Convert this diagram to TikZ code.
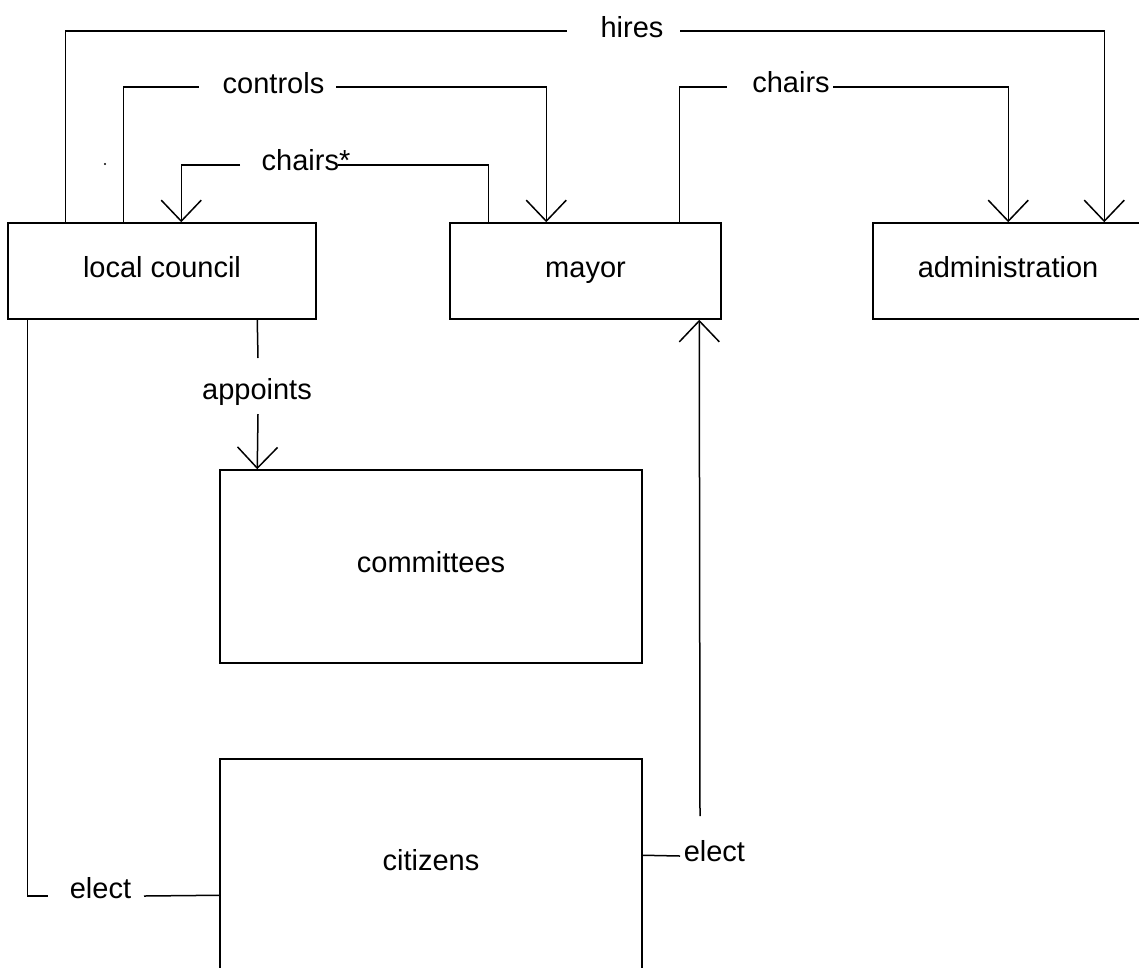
\documentclass[tikz,border=0pt]{standalone}
\usepackage{fontspec}
\setmainfont{Liberation Sans}
\usetikzlibrary{arrows.meta,calc}
\begin{document}
\begin{tikzpicture}[x=1pt,y=-1pt,line width=1.5pt,
  box/.style={draw,rectangle,inner sep=0pt,text height=20pt,text depth=8pt,font=\fontsize{29}{35}\selectfont},
  lbl/.style={inner sep=0pt,anchor=base,font=\fontsize{29}{35}\selectfont},
  arr/.style={-{Straight Barb[length=21pt,width=40pt]}}]
\useasboundingbox (0,0) rectangle (1139,967);
\clip (0,0) rectangle (1139,967);
% boxes
\node[box,minimum width=308pt,minimum height=96pt] (lc) at (162,271) {local council};
\node[box,minimum width=271pt,minimum height=96pt] (mayor) at (585.5,271) {mayor};
\node[box,minimum width=270pt,minimum height=96pt] (admin) at (1008,271) {administration};
\node[box,minimum width=422pt,minimum height=193pt] (comm) at (431,566.5) {committees};
\node[box,minimum width=422pt,minimum height=211pt] (cit) at (431,864.5) {citizens};
% labels
\node[lbl] (hires) at (632,37) {hires};
\node[lbl] (controls) at (273.5,93) {controls};
\node[lbl] (chairsA) at (306,170) {chairs*};
\node[lbl] (chairsB) at (791,92) {chairs};
\node[lbl] (appoints) at (257,399) {appoints};
\node[lbl] (electL) at (100.5,898) {elect};
\node[lbl,anchor=base west] (electR) at (683,861) {elect};
% coordinates for label gaps
\coordinate (hL) at (567,31);
\coordinate (hR) at (680,31);
\coordinate (cL) at (199,87);
\coordinate (cR) at (336,87);
\coordinate (sL) at (240,165);
\coordinate (sR) at (338,165);
\coordinate (bL) at (727,87);
\coordinate (bR) at (833,87);
\coordinate (aT) at (258,358);
\coordinate (aB) at (258,414);
\coordinate (eL1) at (48,896);
\coordinate (eL2) at (144,896);
\coordinate (eR1) at (680,856);
\coordinate (eR2) at (700,816);
% hires
\draw ($(lc.north west)+(58,0)$) |- (hL);
\draw[arr] (hR) -| ($(admin.north west)+(232,0)$);
% controls
\draw ($(lc.north west)+(116,0)$) |- (cL);
\draw[arr] (cR) -| ($(mayor.north west)+(97,0)$);
% chairs*
\draw ($(mayor.north west)+(39,0)$) |- (sR);
\draw[arr] (sL) -| ($(lc.north west)+(174,0)$);
% chairs
\draw ($(mayor.north west)+(230,0)$) |- (bL);
\draw[arr] (bR) -| ($(admin.north west)+(136,0)$);
% appoints
\draw ($(lc.south west)+(250,0)$) -- (aT);
\draw[arr] (aB) -- ($(comm.north west)+(38,0)$);
% elect left
\draw ($(lc.south west)+(20,0)$) |- (eL1);
\draw (eL2) -- ($(cit.north west)+(0,137)$);
% elect right
\draw ($(cit.north east)+(0,97)$) -- (eR1);
\draw[arr] (eR2) -- ($(mayor.south west)+(250,0)$);
% stray dot
\fill (105,164) circle (1.2pt);
\end{tikzpicture}
\end{document}
